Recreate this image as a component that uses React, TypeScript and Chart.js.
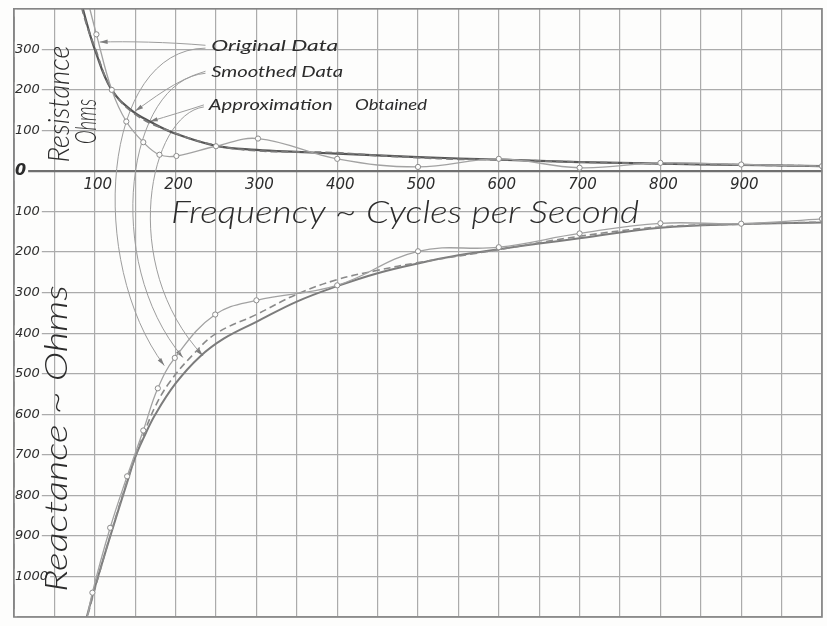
import React, { useEffect, useRef } from 'react';
import { Chart, registerables } from 'chart.js';

Chart.register(...registerables);

// Axis extents: frequency in cycles per second, resistance up / reactance down in ohms
const FREQ_MIN = 0;
const FREQ_MAX = 1000;
const OHMS_MIN = -1100;
const OHMS_MAX = 400;

// Resistance (ohms)
const resOriginalFreq = [90, 102, 121, 139, 160, 180, 201, 250, 302, 400, 500, 600, 700, 800, 900, 1000];
const resOriginalOhms = [430, 337, 200, 122, 71, 40, 37, 61, 80, 30, 10, 30, 8, 20, 16, 12];

const resSmoothedFreq = [80, 90, 100, 120, 150, 200, 250, 300, 350, 400, 450, 500, 550, 600, 700, 800, 900, 1000];
const resSmoothedOhms = [430, 360, 305, 205, 140, 93, 63, 50, 47, 45, 38, 33, 29, 28, 22, 18, 15, 12];

const resApproxFreq = [80, 90, 100, 120, 145, 170, 200, 250, 300, 350, 400, 500, 600, 700, 800, 900, 1000];
const resApproxOhms = [440, 365, 300, 203, 150, 120, 92, 62, 52, 47, 43, 34, 28, 22, 18, 15, 12];

// Reactance (ohms, plotted downward)
const reaOriginalFreq = [88, 97, 119, 140, 160, 178, 199, 249, 300, 400, 500, 600, 700, 800, 900, 1000];
const reaOriginalOhms = [-1130, -1040, -880, -753, -640, -536, -461, -354, -319, -282, -198, -188, -154, -129, -130, -118];

const reaSmoothedFreq = [88, 100, 120, 140, 150, 160, 175, 193, 221, 250, 300, 350, 400, 450, 500, 600, 700, 800, 900, 1000];
const reaSmoothedOhms = [-1120, -1032, -893, -765, -706, -652, -580, -520, -454, -401, -354, -304, -268, -245, -226, -194, -161, -138, -131, -126];

const reaApproxFreq = [88, 100, 120, 140, 150, 160, 175, 200, 230, 260, 300, 350, 400, 450, 500, 550, 600, 650, 700, 800, 900, 1000];
const reaApproxOhms = [-1115, -1028, -895, -768, -706, -660, -600, -524, -458, -413, -372, -322, -284, -252, -228, -208, -193, -179, -166, -140, -131, -127];

// Tick steps
const FREQ_STEP = 50;
const OHMS_STEP = 100;

const INK = '#2c2c2c';
const GRID = '#ababab';
const FRAME = '#858585';
const PAPER = '#fdfdfc';

const toPoints = (xs: number[], ys: number[]) => xs.map((x, i) => ({ x, y: ys[i] }));
// first point of a measured series only continues the trace past the frame
const markerRadii = (n: number, r: number) => Array.from({ length: n }, (_, i) => (i === 0 ? 0 : r));

type Pt = [number, number];
interface Leader { from: Pt; c1: Pt; c2: Pt; to: Pt }

// Pointer lines from the key captions to the traces (frequency, ohms)
const leaders: Leader[] = [
  { from: [237, 310], c1: [190, 318], c2: [140, 320], to: [106, 318] },
  { from: [237, 303], c1: [108, 300], c2: [90, -225], to: [186, -480] },
  { from: [237, 246], c1: [200, 225], c2: [170, 175], to: [150, 148] },
  { from: [237, 241], c1: [140, 225], c2: [108, -220], to: [209, -460] },
  { from: [235, 163], c1: [215, 150], c2: [190, 135], to: [168, 122] },
  { from: [235, 158], c1: [168, 140], c2: [128, -230], to: [234, -456] },
];

const captions = [
  { text: 'Original Data', at: [244, 297] as Pt, len: 127, size: 16 },
  { text: 'Smoothed Data', at: [244, 232] as Pt, len: 132, size: 16 },
  { text: 'Approximation', at: [241, 151] as Pt, len: 124, size: 16 },
  { text: 'Obtained', at: [422, 151] as Pt, len: 72, size: 16 },
];

const titles = [
  { text: 'Resistance', at: [56, 165] as Pt, len: 117, size: 29, rot: -Math.PI / 2 },
  { text: 'Ohms', at: [90, 122] as Pt, len: 45, size: 30, rot: -Math.PI / 2 },
  { text: 'Reactance ~ Ohms', at: [53, -660] as Pt, len: 307, size: 31, rot: -Math.PI / 2 },
  { text: 'Frequency ~ Cycles per Second', at: [484, -103] as Pt, len: 468, size: 31, rot: 0 },
];

const HAND = '"Lato", "DejaVu Sans", sans-serif';

function fittedText(ctx: CanvasRenderingContext2D, text: string, x: number, y: number, len: number, size: number, rot: number, align: 'left' | 'center', weight: number) {
  ctx.save();
  ctx.translate(x, y);
  ctx.rotate(rot);
  ctx.font = `italic ${weight} ${size}px ${HAND}`;
  const w = ctx.measureText(text).width;
  ctx.scale(len / w, 1);
  ctx.textAlign = align;
  ctx.textBaseline = align === 'center' ? 'middle' : 'alphabetic';
  ctx.fillStyle = INK;
  ctx.fillText(text, 0, 0);
  ctx.restore();
}

const paperPlugin = {
  id: 'paper',
  beforeDraw(chart: any) {
    const { ctx } = chart;
    ctx.save();
    ctx.fillStyle = PAPER;
    ctx.fillRect(0, 0, chart.width, chart.height);
    ctx.restore();
  },
  beforeDatasetsDraw(chart: any) {
    const { ctx, scales } = chart;
    const P = (p: Pt) => [scales.x.getPixelForValue(p[0]), scales.y.getPixelForValue(p[1])];
    ctx.save();
    ctx.strokeStyle = '#9d9d9d';
    ctx.fillStyle = '#7d7d7d';
    ctx.lineWidth = 1;
    for (const l of leaders) {
      const [x0, y0] = P(l.from);
      const [x1, y1] = P(l.c1);
      const [x2, y2] = P(l.c2);
      const [x3, y3] = P(l.to);
      ctx.beginPath();
      ctx.moveTo(x0, y0);
      ctx.bezierCurveTo(x1, y1, x2, y2, x3, y3);
      ctx.stroke();
      const a = Math.atan2(y3 - y2, x3 - x2);
      ctx.beginPath();
      ctx.moveTo(x3, y3);
      ctx.lineTo(x3 - 8 * Math.cos(a) + 2.2 * Math.sin(a), y3 - 8 * Math.sin(a) - 2.2 * Math.cos(a));
      ctx.lineTo(x3 - 8 * Math.cos(a) - 2.2 * Math.sin(a), y3 - 8 * Math.sin(a) + 2.2 * Math.cos(a));
      ctx.closePath();
      ctx.fill();
    }
    ctx.restore();
  },
  afterDraw(chart: any) {
    const { ctx, scales, chartArea } = chart;
    const P = (p: Pt) => [scales.x.getPixelForValue(p[0]), scales.y.getPixelForValue(p[1])];
    ctx.save();
    ctx.strokeStyle = FRAME;
    ctx.lineWidth = 1.6;
    ctx.strokeRect(chartArea.left, chartArea.top, chartArea.right - chartArea.left, chartArea.bottom - chartArea.top);
    ctx.restore();
    for (const c of captions) {
      const [x, y] = P(c.at);
      fittedText(ctx, c.text, x, y, c.len, c.size, 0, 'left', 400);
    }
    for (const t of titles) {
      const [x, y] = P(t.at);
      fittedText(ctx, t.text, x, y, t.len, t.size, t.rot, 'center', 300);
    }
  },
};

export default function App() {
  const ref = useRef<HTMLCanvasElement>(null);

  useEffect(() => {
    document.body.style.margin = '0';
    const canvas = ref.current;
    if (!canvas) return;
    const tickFont = { family: '"DejaVu Sans", sans-serif', size: 13, style: 'italic' as const };
    const chart = new Chart(canvas, {
      type: 'line',
      data: {
        datasets: [
          {
            label: 'Resistance, original data',
            data: toPoints(resOriginalFreq, resOriginalOhms),
            borderColor: '#a2a2a2', borderWidth: 1.3,
            pointRadius: markerRadii(resOriginalFreq.length, 2.6),
            pointBackgroundColor: PAPER, pointBorderColor: '#8c8c8c', pointBorderWidth: 1,
            tension: 0.4, clip: 0,
          },
          {
            label: 'Resistance, smoothed data',
            data: toPoints(resSmoothedFreq, resSmoothedOhms),
            borderColor: '#7a7a7a', borderWidth: 1.8, borderDash: [7, 4],
            pointRadius: 0, tension: 0.4, clip: 0,
          },
          {
            label: 'Resistance, approximation obtained',
            data: toPoints(resApproxFreq, resApproxOhms),
            borderColor: '#555555', borderWidth: 2.2,
            pointRadius: 0, tension: 0.4, clip: 0,
          },
          {
            label: 'Reactance, original data',
            data: toPoints(reaOriginalFreq, reaOriginalOhms),
            borderColor: '#a2a2a2', borderWidth: 1.3,
            pointRadius: markerRadii(reaOriginalFreq.length, 2.6),
            pointBackgroundColor: PAPER, pointBorderColor: '#8c8c8c', pointBorderWidth: 1,
            tension: 0.4, clip: 0,
          },
          {
            label: 'Reactance, smoothed data',
            data: toPoints(reaSmoothedFreq, reaSmoothedOhms),
            borderColor: '#8a8a8a', borderWidth: 1.6, borderDash: [7, 4],
            pointRadius: 0, tension: 0.4, clip: 0,
          },
          {
            label: 'Reactance, approximation obtained',
            data: toPoints(reaApproxFreq, reaApproxOhms),
            borderColor: '#7c7c7c', borderWidth: 2,
            pointRadius: 0, tension: 0.4, clip: 0,
          },
        ],
      },
      options: {
        responsive: false,
        animation: false,
        events: [],
        layout: { padding: { left: 12, right: 2, top: 8, bottom: 9 } },
        plugins: { legend: { display: false }, tooltip: { enabled: false } },
        scales: {
          x: {
            type: 'linear',
            min: FREQ_MIN,
            max: FREQ_MAX,
            position: { y: 0 },
            ticks: {
              stepSize: FREQ_STEP,
              autoSkip: false,
              maxRotation: 0,
              padding: 5,
              labelOffset: 3,
              color: INK,
              font: { family: '"DejaVu Sans", sans-serif', size: 15, style: 'italic' },
              callback: (v: any) => (v % 100 === 0 && v > FREQ_MIN && v < FREQ_MAX ? String(v) : ''),
            },
            grid: { color: GRID, lineWidth: 1.2, drawTicks: false },
            border: { display: true, color: '#6f6f6f', width: 2.2 },
          },
          y: {
            type: 'linear',
            min: OHMS_MIN,
            max: OHMS_MAX,
            position: 'left',
            ticks: {
              stepSize: OHMS_STEP,
              autoSkip: false,
              mirror: true,
              padding: 1,
              color: INK,
              showLabelBackdrop: true,
              backdropColor: PAPER,
              backdropPadding: { left: 1, right: 2, top: 0, bottom: 0 },
              font: (c: any) => (c.tick && c.tick.value === 0 ? { ...tickFont, size: 16, weight: 'bold' } : tickFont),
              callback: (v: any) => (v === OHMS_MAX || v === OHMS_MIN ? '' : String(Math.abs(v))),
            },
            grid: { color: GRID, lineWidth: 1.2, drawTicks: false },
            border: { display: true, color: FRAME, width: 1.6 },
          },
        },
      } as any,
      plugins: [paperPlugin],
    });
    return () => chart.destroy();
  }, []);

  return (
    <div style={{ width: 827, height: 626, background: PAPER }}>
      <canvas ref={ref} width={827} height={626} style={{ display: 'block' }} />
    </div>
  );
}
